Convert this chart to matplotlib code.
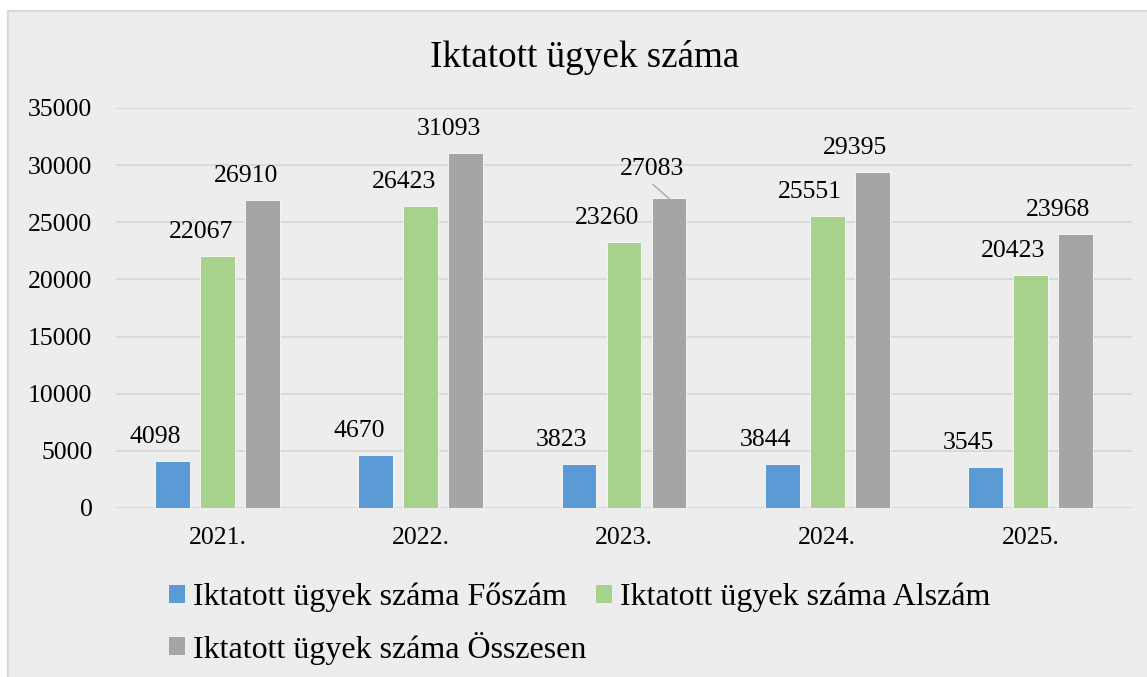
import matplotlib
matplotlib.use("Agg")
import matplotlib.pyplot as plt
from matplotlib.patches import Rectangle, Patch
import numpy as np

plt.rcParams['font.family'] = ['Liberation Serif', 'DejaVu Serif']

# data
years = ["2021.", "2022.", "2023.", "2024.", "2025."]
foszam = [4098, 4670, 3823, 3844, 3545]
alszam = [22067, 26423, 23260, 25551, 20423]
osszesen = [26910, 31093, 27083, 29395, 23968]
series_names = ["Iktatott ügyek száma Főszám",
                "Iktatott ügyek száma Alszám",
                "Iktatott ügyek száma Összesen"]
colors = ["#5B9BD5", "#A9D18E", "#A5A5A5"]

W, H = 1147, 677
fig = plt.figure(figsize=(W / 100, H / 100), dpi=100)
fig.patch.set_facecolor("white")

# chart area background with light border (top/left edges visible)
bg = Rectangle((8 / W, -0.05), 1.2, (H - 11) / H + 0.05, transform=fig.transFigure,
               facecolor="#EDEDED", edgecolor="#D9D9D9", lw=1.5, zorder=-5)
fig.patches.append(bg)

ax = fig.add_axes([116 / W, 1 - 508 / H, (1132 - 116) / W, 400 / H])
ax.set_facecolor("none")
ax.set_zorder(1)

x = np.arange(len(years))
bw = 0.172
step = 0.2215
all_series = [foszam, alszam, osszesen]
for i, vals in enumerate(all_series):
    pos = x + (i - 1) * step
    ax.bar(pos, vals, width=bw, color=colors[i], edgecolor="#F4F4F4",
           linewidth=0.7, zorder=3)
    for xp, v in zip(pos, vals):
        if v == 27083:
            # label moved up a bit, with leader line
            ax.annotate(str(v), xy=(xp, v), xytext=(-17, 23), textcoords="offset pixels",
                        ha="center", va="baseline", fontsize=18.5, zorder=4)
            ax.annotate("", xy=(xp, v), xytext=(-16, 14), textcoords="offset pixels",
                        arrowprops=dict(arrowstyle="-", color="#A6A6A6", lw=1,
                                        shrinkA=0, shrinkB=0), zorder=4)
        else:
            ax.annotate(str(v), xy=(xp, v), xytext=(-17, 18), textcoords="offset pixels",
                        ha="center", va="baseline", fontsize=18.5, zorder=4)

ax.set_xlim(-0.5, len(years) - 0.5)
ax.set_ylim(0, 35000)
ax.set_yticks(np.arange(0, 35001, 5000))
ax.set_xticks(x)
ax.set_xticklabels(years)
ax.tick_params(axis="both", length=0, labelsize=18.5)
ax.tick_params(axis="y", pad=17)
ax.tick_params(axis="x", pad=13.5)
ax.yaxis.grid(True, color="#D9D9D9", lw=1.4, zorder=0)
ax.set_axisbelow(True)
for s in ax.spines.values():
    s.set_visible(False)

fig.text(585 / W, 1 - 67 / H, "Iktatott ügyek száma", ha="center", va="baseline",
         fontsize=26.7)

# legend: column-major fill, so order gives row1: Fő, Al ; row2: Össz
handles = [Patch(facecolor=c) for c in colors]
order = [0, 2, 1]
fig.legend([handles[k] for k in order], [series_names[k] for k in order],
           ncol=2, loc="upper left", bbox_to_anchor=(169 / W, 1 - 583 / H),
           frameon=False, fontsize=23, borderpad=0, borderaxespad=0,
           handlelength=0.5, handleheight=0.5, handletextpad=0.25,
           columnspacing=0.31, labelspacing=0.6)

fig.savefig("out.png", dpi=100, facecolor=fig.get_facecolor())
